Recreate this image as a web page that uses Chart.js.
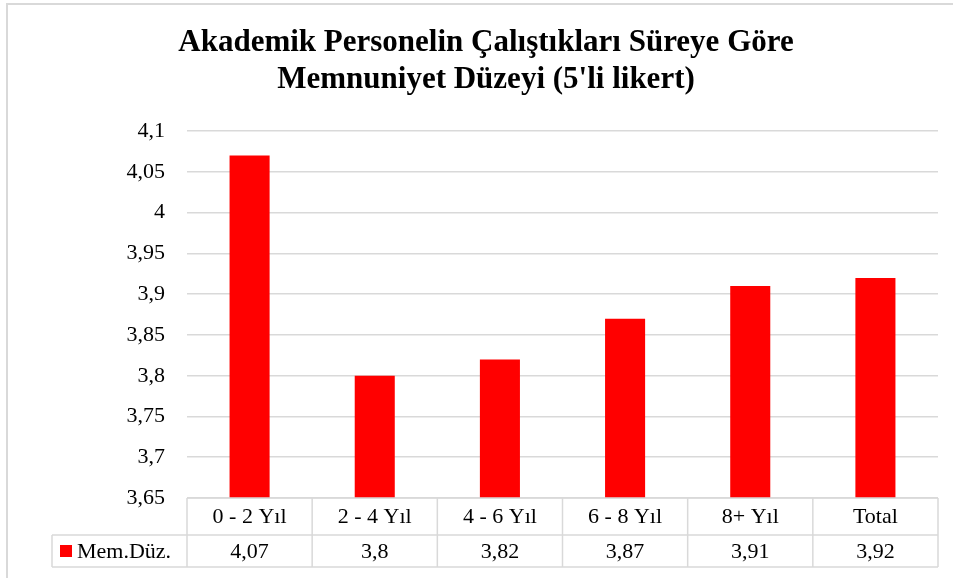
<!DOCTYPE html>
<html>
<head>
  <meta charset="utf-8">
  <title>Memnuniyet Düzeyi</title>
  <script src="https://cdn.jsdelivr.net/npm/chart.js"></script>
  <style>
    html, body { margin: 0; padding: 0; background: #fff; overflow: hidden; }
    #frame { position: absolute; left: 6px; top: 3px; width: 1000px; height: 700px;
             border-left: 2px solid #d9d9d9; border-top: 2px solid #d9d9d9; }
    #wrap { position: absolute; left: 0; top: 0; width: 953px; height: 578px; }
  </style>
</head>
<body>
  <div id="frame"></div>
  <div id="wrap"><canvas id="myChart"></canvas></div>

  <script>
    // data
    const titleLines = ['Akademik Personelin Çalıştıkları Süreye Göre', "Memnuniyet Düzeyi (5'li likert)"];
    const categories = ['0 - 2 Yıl', '2 - 4 Yıl', '4 - 6 Yıl', '6 - 8 Yıl', '8+ Yıl', 'Total'];
    const seriesName = 'Mem.Düz.';
    const values = [4.07, 3.8, 3.82, 3.87, 3.91, 3.92];
    const yMin = 3.65, yMax = 4.1, yStep = 0.05;

    const fontFamily = '"Liberation Serif", "Times New Roman", serif';
    const lineColor = '#d9d9d9';
    const barColor = '#ff0000';
    const textSize = 22;

    const fmt = v => String(Math.round(v * 100) / 100).replace('.', ',');

    // draws the data table under the bars
    const dataTable = {
      id: 'dataTable',
      afterDraw(chart) {
        const ctx = chart.ctx;
        const area = chart.chartArea;
        const xs = chart.scales.x;
        const colW = (area.right - area.left) / categories.length;
        const row1 = area.bottom, row2 = row1 + 37, row3 = row2 + 32;
        const legendLeft = 52;

        ctx.save();
        ctx.strokeStyle = lineColor;
        ctx.lineWidth = 1.5;
        ctx.beginPath();
        ctx.moveTo(area.left, row1); ctx.lineTo(area.right, row1);
        ctx.moveTo(legendLeft, row2); ctx.lineTo(area.right, row2);
        ctx.moveTo(legendLeft, row3); ctx.lineTo(area.right, row3);
        ctx.moveTo(legendLeft, row2); ctx.lineTo(legendLeft, row3);
        for (let i = 0; i <= categories.length; i++) {
          const x = area.left + i * colW;
          ctx.moveTo(x, row1); ctx.lineTo(x, row3);
        }
        ctx.stroke();

        ctx.fillStyle = '#000';
        ctx.font = textSize + 'px ' + fontFamily;
        ctx.textAlign = 'center';
        ctx.textBaseline = 'middle';
        categories.forEach((c, i) => {
          const x = xs.getPixelForValue(i);
          ctx.fillText(c, x, (row1 + row2) / 2 + 1);
          ctx.fillText(fmt(values[i]), x, (row2 + row3) / 2 + 1);
        });

        // legend key
        ctx.fillStyle = barColor;
        ctx.fillRect(60, (row2 + row3) / 2 - 6, 12, 12);
        ctx.fillStyle = '#000';
        ctx.textAlign = 'left';
        ctx.fillText(seriesName, 77, (row2 + row3) / 2 + 1);
        ctx.restore();
      }
    };

    const ctx = document.getElementById('myChart').getContext('2d');
    const myChart = new Chart(ctx, {
      type: 'bar',
      data: {
        labels: categories,
        datasets: [{
          label: seriesName,
          data: values,
          backgroundColor: barColor,
          barPercentage: 0.32,
          categoryPercentage: 1
        }]
      },
      options: {
        responsive: true,
        maintainAspectRatio: false,
        animation: false,
        layout: { padding: { left: 34, right: 15, top: 0, bottom: 80 } },
        plugins: {
          legend: { display: false },
          tooltip: { enabled: false },
          title: {
            display: true,
            text: titleLines,
            color: '#000',
            font: { family: fontFamily, size: 31, weight: 'bold', lineHeight: 1.18 },
            padding: { top: 25, bottom: 33 }
          }
        },
        scales: {
          x: { display: false },
          y: {
            min: yMin,
            max: yMax,
            afterFit(scale) { scale.width = 153; },
            border: { display: false },
            grid: { color: lineColor, lineWidth: 1.5, drawTicks: false },
            ticks: {
              stepSize: yStep,
              padding: 22,
              color: '#000',
              font: { family: fontFamily, size: textSize },
              callback: v => fmt(v)
            }
          }
        }
      },
      plugins: [dataTable]
    });
  </script>
</body>
</html>
